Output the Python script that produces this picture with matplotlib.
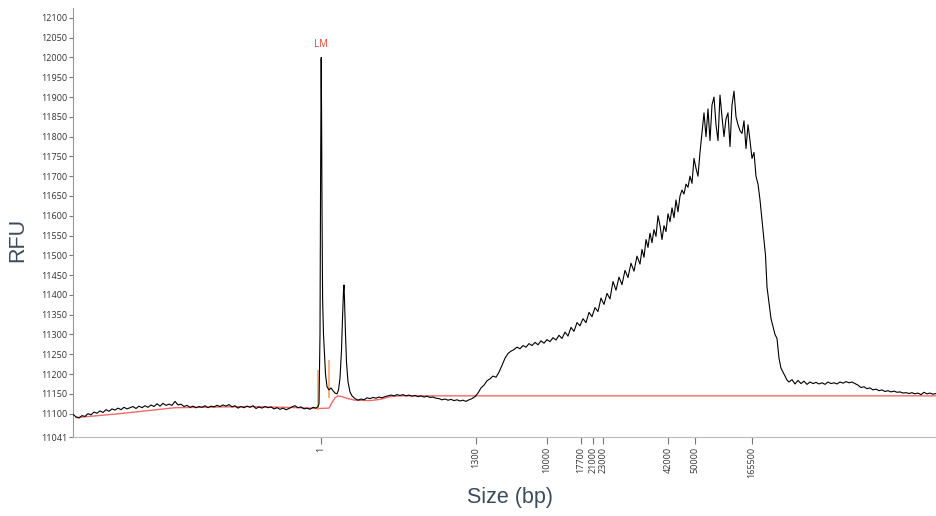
import matplotlib
matplotlib.use('Agg')
import matplotlib.pyplot as plt

# electropherogram trace (migration position, RFU)
pos = [73, 76, 79, 82, 85, 88, 91, 94, 97, 100, 103, 106, 109, 112, 115, 118, 121, 124, 127, 130,
       133, 136, 139, 142, 145, 148, 151, 154, 157, 160, 163, 166, 169, 172, 175, 178, 181, 184, 187, 190,
       193, 196, 199, 202, 205, 208, 211, 214, 217, 220, 223, 226, 229, 232, 235, 238, 241, 244, 247, 250,
       253, 256, 259, 262, 265, 268, 271, 274, 277, 280, 283, 286, 289, 292, 295, 298, 301, 304, 307, 310,
       313, 316, 318,
       319, 320, 320.6, 321.2, 321.6, 322, 322.6, 323.5, 324.5, 325.5, 327, 329, 331, 333, 335, 337, 338.5,
       340, 341.5, 342.5, 343.5, 344, 344.6, 345.5, 346.5, 348, 350, 352,
       355, 358, 361, 364, 367, 370, 373, 376, 379, 382, 385, 388, 391, 394, 397, 400, 403, 406, 409, 412,
       415, 418, 421, 424, 427, 430, 433, 436, 439, 442, 445, 448, 451, 454, 457, 460, 463, 466, 469, 472, 475,
       478, 481, 484, 487, 490, 493, 496, 499, 502, 505, 508, 511, 514, 517, 520, 523, 526, 529, 532, 535,
       538, 541, 544, 547, 550, 553, 556, 559, 562, 565, 568, 571, 574, 577, 580, 583, 586, 589, 592, 595,
       598, 601, 604, 607, 610, 613, 616, 619, 622, 625, 628, 631, 634, 637, 640, 642, 644, 646, 648, 650,
       652, 654, 656, 658, 660, 662, 664, 666, 668, 670, 672, 674, 676, 678, 680, 682, 684, 686, 688, 690,
       692, 694, 696, 698, 700, 702, 704, 706, 708, 710, 712, 714, 716, 718, 720, 722, 724, 726, 728, 730,
       732, 734, 736, 738, 740, 742, 744, 746, 748, 750, 752, 754, 756, 758, 760, 762, 764, 765.5, 767, 769,
       771, 773, 775, 777, 779, 781, 783, 785, 787,
       789, 792, 795, 798, 801, 804, 807, 810, 813, 816, 819, 822, 825, 828, 831, 834, 837, 840, 843, 846,
       849, 852, 855, 858, 861, 864, 867, 870, 873, 876, 879, 882, 885, 888, 891, 894, 897, 900, 903, 906,
       909, 912, 915, 918, 921, 924, 927, 930, 933, 936]
rfu = [11098, 11092, 11089, 11095, 11093, 11100, 11097, 11104, 11101, 11107, 11103, 11110, 11106, 11112, 11109, 11114, 11110, 11116, 11112, 11115,
       11118, 11113, 11119, 11115, 11120, 11116, 11122, 11118, 11125, 11119, 11126, 11121, 11124, 11121, 11131, 11122, 11124, 11118, 11121, 11116,
       11119, 11115, 11118, 11116, 11120, 11115, 11119, 11117, 11121, 11118, 11122, 11119, 11123, 11117, 11120, 11114, 11118, 11115, 11119, 11116,
       11120, 11113, 11117, 11114, 11118, 11115, 11117, 11112, 11115, 11111, 11114, 11110, 11113, 11117, 11120, 11115, 11117, 11112, 11114, 11111,
       11116, 11114, 11118,
       11125, 11300, 11700, 12000, 11850, 11620, 11390, 11300, 11250, 11200, 11168, 11160, 11165, 11158, 11152, 11150, 11160,
       11190, 11260, 11340, 11410, 11425, 11380, 11300, 11230, 11180, 11155, 11145,
       11138, 11134, 11137, 11135, 11140, 11138, 11141, 11139, 11142, 11140, 11143, 11145, 11147, 11145, 11148, 11146, 11148, 11145, 11147, 11144,
       11146, 11143, 11145, 11142, 11144, 11141, 11142, 11139, 11138, 11135, 11137, 11134, 11136, 11133, 11135, 11132, 11134, 11131, 11135, 11138, 11143,
       11152, 11165, 11172, 11183, 11188, 11195, 11192, 11205, 11222, 11240, 11252, 11258, 11262, 11268, 11264, 11272, 11268, 11277, 11272, 11280,
       11274, 11284, 11278, 11287, 11282, 11292, 11286, 11298, 11290, 11306, 11296, 11318, 11308, 11330, 11322, 11340, 11330, 11356, 11345, 11368,
       11358, 11392, 11376, 11404, 11390, 11434, 11412, 11445, 11426, 11462, 11444, 11480, 11460, 11498, 11478, 11515, 11495, 11540, 11520, 11556,
       11532, 11565, 11548, 11600, 11575, 11540, 11575, 11560, 11605, 11585, 11620, 11595, 11640, 11610, 11650, 11665, 11655, 11680, 11672, 11700,
       11682, 11745, 11720, 11700, 11760, 11810, 11860, 11800, 11870, 11790, 11880, 11900, 11830, 11790, 11905, 11850, 11800, 11845, 11860, 11775,
       11880, 11915, 11850, 11830, 11815, 11808, 11840, 11770, 11830, 11790, 11745, 11760, 11700, 11680, 11640, 11590, 11540, 11500, 11420, 11380,
       11340, 11320, 11300, 11290, 11240, 11215, 11205, 11195, 11185,
       11180, 11186, 11175, 11184, 11176, 11182, 11174, 11180, 11176, 11179, 11175, 11178, 11174, 11180, 11176, 11178, 11175, 11180, 11177, 11181,
       11178, 11180, 11176, 11172, 11166, 11168, 11163, 11165, 11160, 11162, 11158, 11160, 11156, 11158, 11155, 11157, 11154, 11155, 11152, 11153,
       11151, 11153, 11150, 11152, 11148, 11154, 11150, 11152, 11149, 11151]

# fitted baseline (red)
base_pos = [76, 120, 175, 200, 250, 300, 318, 329, 332, 335, 338, 342, 348, 355, 370, 380, 390, 400, 936]
base_rfu = [11090, 11100, 11115, 11116, 11118, 11115, 11113, 11114, 11128, 11140, 11145, 11143, 11138, 11134, 11133, 11136, 11143, 11145, 11145]

# peak boundary markers (orange)
marker_pos = [318, 328.5]
marker_lo = [11110, 11140]
marker_hi = [11210, 11235]

# size ladder ticks
size_pos = [321, 476, 547, 581, 593, 603, 668, 695, 752]
size_labels = ['1', '1300', '10000', '17700', '21000', '23000', '42000', '50000', '165500']

y_ticks = [11041] + list(range(11100, 12101, 50))

fig = plt.figure(figsize=(9.36, 5.16), dpi=100)
ax = fig.add_axes([73 / 936, 79 / 516, 863 / 936, 429 / 516])

ax.plot(base_pos, base_rfu, color='#f06a6a', lw=1.0, zorder=2)
ax.vlines(marker_pos, marker_lo, marker_hi, color='#f5a66a', lw=1.2, zorder=2)
ax.plot(pos, rfu, color='black', lw=0.8, zorder=3)
ax.text(321.2, 12018, 'LM', color='#e8453c', fontsize=7, ha='center', va='bottom',
        family='Open Sans')

ax.set_xlim(73, 936)
ax.set_ylim(11041, 12125)
ax.set_yticks(y_ticks)
ax.set_yticklabels([str(v) for v in y_ticks])
ax.set_xticks(size_pos)
ax.set_xticklabels(size_labels, rotation=90)

for s in ['top', 'right']:
    ax.spines[s].set_visible(False)
ax.spines['left'].set_color('#999999')
ax.spines['bottom'].set_color('#bbbbbb')
ax.tick_params(axis='y', length=3, width=0.8, color='#777777', pad=1,
               labelsize=6.5, labelcolor='#333333')
ax.tick_params(axis='x', length=5, width=0.8, color='#777777', pad=2,
               labelsize=6.5, labelcolor='#333333')
for lab in ax.get_xticklabels() + ax.get_yticklabels():
    lab.set_family('Open Sans')

fig.text(18 / 936, 1 - 240 / 516, 'RFU', rotation=90, ha='center', va='center',
         fontsize=15.5, color='#3b4b5c', family='Liberation Sans')
fig.text(510 / 936, 1 - 497 / 516, 'Size (bp)', ha='center', va='center',
         fontsize=15.5, color='#3b4b5c', family='Liberation Sans')

plt.savefig('out.png', dpi=100)
